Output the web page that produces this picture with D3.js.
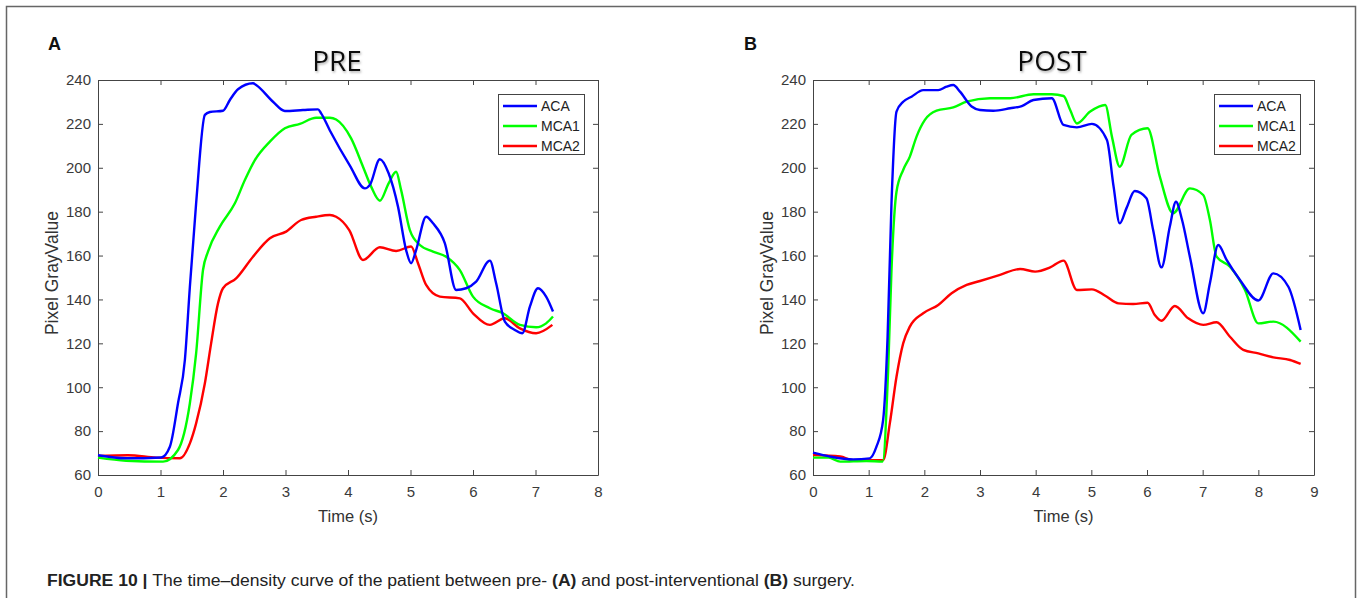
<!DOCTYPE html>
<html>
<head>
<meta charset="utf-8">
<script src="https://cdn.jsdelivr.net/npm/d3@7"></script>
<style>
  body { margin: 0; background: #fff; }
  svg { display: block; font-family: "Liberation Sans", Arial, sans-serif; }
  .axis path, .axis line { stroke: #444; }
  .axis text { fill: #3a3a3a; font-size: 15px; }
</style>
</head>
<body>
<svg width="1358" height="598"></svg>
<script>
// legend / series names
const seriesNames = ['ACA', 'MCA1', 'MCA2'];
const seriesColors = ['#0000ff', '#00ff00', '#ff0000'];

// PRE panel, values
const preAcaT = [0, 0.45, 1.01, 1.15, 1.28, 1.39, 1.47, 1.57, 1.71, 1.79, 2.0, 2.11, 2.24, 2.48, 2.53, 2.8, 2.99, 3.28, 3.52, 3.57, 3.71, 4.03, 4.27, 4.35, 4.51, 4.65, 4.8, 4.93, 5.01, 5.09, 5.25, 5.36, 5.55, 5.73, 5.89, 6.05, 6.27, 6.37, 6.51, 6.67, 6.79, 6.91, 7.04, 7.17, 7.28];
const preAcaV = [69, 67.6, 68, 72.9, 92.7, 112.4, 145.8, 183.8, 224.1, 225.4, 226, 230.9, 235.8, 238.5, 237.7, 230.1, 225.9, 226.3, 226.6, 224.8, 217, 201, 190.6, 192.2, 203.9, 197.5, 182.3, 162.5, 156.5, 162.5, 177.7, 174.7, 165.6, 144.3, 145.1, 148.1, 157.7, 147.4, 129.9, 126.1, 124.6, 136.7, 145.1, 141.3, 134.5];
const preMca1T = [0, 0.45, 1.04, 1.28, 1.47, 1.57, 1.68, 1.76, 1.95, 2.19, 2.35, 2.51, 2.75, 2.99, 3.23, 3.49, 3.71, 3.81, 4.05, 4.24, 4.37, 4.51, 4.65, 4.77, 4.85, 4.99, 5.15, 5.36, 5.57, 5.79, 6.0, 6.27, 6.48, 6.75, 7.01, 7.17, 7.28];
const preMca1V = [67.9, 66.5, 66.1, 71.4, 92.7, 115.4, 153.4, 161.8, 173.2, 183.8, 194.4, 203.5, 211.9, 218, 220, 222.8, 222.8, 222, 213.4, 200.5, 191.4, 185, 192.9, 198.2, 189.8, 171.6, 164.8, 161.8, 159.5, 153.4, 141.3, 136, 133.7, 128.4, 127.3, 129.1, 132.2];
const preMca2T = [0, 0.48, 0.93, 1.31, 1.47, 1.57, 1.71, 1.81, 1.92, 2.0, 2.21, 2.48, 2.75, 3.01, 3.25, 3.49, 3.71, 3.81, 4.02, 4.24, 4.51, 4.77, 5.01, 5.12, 5.25, 5.47, 5.79, 6.0, 6.27, 6.51, 6.75, 7.01, 7.27];
const preMca2V = [68.7, 69, 67.9, 67.6, 74.4, 83.5, 101.8, 120, 138.2, 145.1, 149.6, 159.5, 167.9, 170.9, 176.2, 177.7, 178.5, 177.7, 171.6, 158, 163.8, 162.1, 164.1, 156.5, 146.6, 141.3, 140.5, 133.7, 128.4, 131.4, 126.8, 124.6, 128.4];

// POST panel
const postAcaT = [0, 0.31, 0.72, 1.02, 1.14, 1.26, 1.34, 1.41, 1.5, 1.62, 1.77, 1.98, 2.25, 2.4, 2.52, 2.64, 2.85, 3.0, 3.24, 3.54, 3.75, 3.96, 4.29, 4.5, 4.74, 5.01, 5.28, 5.4, 5.51, 5.63, 5.78, 5.99, 6.11, 6.26, 6.41, 6.52, 6.63, 6.77, 7.01, 7.13, 7.28, 7.43, 7.67, 8.0, 8.27, 8.54, 8.76];
const postAcaV = [70.2, 68.4, 67.1, 67.6, 72.9, 85.1, 123, 183.8, 225.6, 230.1, 232.4, 235.4, 235.4, 237, 237.7, 234.7, 227.9, 226.3, 226, 227.1, 228.1, 230.9, 231.7, 219.5, 218.4, 220, 212.7, 191.4, 174.7, 181.5, 189.4, 186.1, 171.6, 154.6, 173.2, 184.5, 176.2, 159.5, 133.7, 147.4, 164.8, 158, 148.9, 139.5, 151.9, 145.8, 126.1];
const postMca1T = [0, 0.28, 0.49, 0.96, 1.25, 1.35, 1.41, 1.5, 1.62, 1.74, 1.86, 2.01, 2.22, 2.52, 2.76, 3.18, 3.54, 3.96, 4.29, 4.5, 4.62, 4.74, 4.98, 5.25, 5.37, 5.51, 5.72, 6.01, 6.23, 6.47, 6.77, 7.01, 7.13, 7.25, 7.49, 7.76, 8.0, 8.27, 8.76];
const postMca1V = [67.9, 67.9, 66.1, 66.4, 66.1, 107.9, 153.4, 189.1, 199, 205.1, 214.2, 221.8, 226, 227.5, 230.1, 231.7, 231.7, 233.5, 233.5, 232.7, 226.3, 220.2, 225.6, 228.6, 214.2, 200.5, 215, 218, 196, 179.3, 190.6, 187.6, 176.2, 159.5, 154.9, 144.3, 129.1, 129.9, 120.8];
const postMca2T = [0, 0.49, 0.72, 1.26, 1.38, 1.5, 1.62, 1.74, 1.98, 2.25, 2.49, 2.76, 3.0, 3.36, 3.72, 3.99, 4.26, 4.5, 4.74, 5.01, 5.25, 5.49, 5.75, 6.01, 6.14, 6.26, 6.5, 6.74, 7.01, 7.25, 7.49, 7.73, 8.0, 8.27, 8.57, 8.76];
const postMca2V = [69.1, 68.4, 66.8, 66.8, 83.5, 104.8, 120, 127.6, 133.7, 137.5, 142.8, 146.6, 148.4, 151.2, 153.9, 152.7, 154.6, 157.7, 144.3, 144.6, 141.7, 138.2, 137.9, 138.5, 132.9, 130.3, 137, 131.4, 128.4, 129.6, 123, 117, 115.4, 113.6, 112.4, 110.6];

const yTicks = [60, 80, 100, 120, 140, 160, 180, 200, 220, 240];

const svg = d3.select('svg');

// soft shadow used under the panel titles
svg.append('defs').append('filter').attr('id', 'shadow')
  .append('feDropShadow')
  .attr('dx', 1).attr('dy', 1.5).attr('stdDeviation', 1)
  .attr('flood-color', '#777').attr('flood-opacity', 0.6);

// outer frame (open at the bottom)
svg.append('path')
  .attr('d', 'M6.5,598 V6.5 H1355.5 V598')
  .attr('fill', 'none').attr('stroke', '#666').attr('stroke-width', 1.5);

const zip = (ts, vs) => ts.map((t, i) => ({t: t, v: vs[i]}));

function drawPanel(p) {
  const x = d3.scaleLinear().domain([0, p.xMax]).range([p.left, p.right]);
  const y = d3.scaleLinear().domain([60, 240]).range([475, 80]);
  const g = svg.append('g');

  g.append('g').attr('class', 'axis')
    .attr('transform', 'translate(0,475)')
    .call(d3.axisBottom(x).ticks(p.xMax).tickSizeInner(-5).tickSizeOuter(0).tickPadding(11));
  g.append('g').attr('class', 'axis')
    .attr('transform', 'translate(0,80)')
    .call(d3.axisTop(x).ticks(p.xMax).tickSizeInner(-5).tickSizeOuter(0).tickFormat(''));
  g.append('g').attr('class', 'axis')
    .attr('transform', 'translate(' + p.left + ',0)')
    .call(d3.axisLeft(y).tickValues(yTicks).tickSizeInner(-5).tickSizeOuter(0).tickPadding(7));
  g.append('g').attr('class', 'axis')
    .attr('transform', 'translate(' + p.right + ',0)')
    .call(d3.axisRight(y).tickValues(yTicks).tickSizeInner(-5).tickSizeOuter(0).tickFormat(''));
  g.selectAll('.axis .domain').attr('stroke', '#444');

  const line = d3.line()
    .x(d => x(d.t))
    .y(d => y(d.v))
    .curve(d3.curveMonotoneX);

  // red first so blue sits on top, like the figure
  [2, 1, 0].forEach(i => {
    g.append('path')
      .datum(p.series[i])
      .attr('fill', 'none')
      .attr('stroke', seriesColors[i])
      .attr('stroke-width', 2.4)
      .attr('stroke-linejoin', 'round')
      .attr('d', line);
  });

  // legend
  const lg = g.append('g').attr('transform', 'translate(' + (p.right - 100) + ',94)');
  lg.append('rect').attr('x', 0.5).attr('y', 0.5).attr('width', 86).attr('height', 60)
    .attr('fill', '#fff').attr('stroke', '#444').attr('stroke-width', 1);
  seriesNames.forEach((name, i) => {
    const yy = 12 + i * 20;
    lg.append('line').attr('x1', 5).attr('x2', 39).attr('y1', yy).attr('y2', yy)
      .attr('stroke', seriesColors[i]).attr('stroke-width', 2.4);
    lg.append('text').attr('x', 43).attr('y', yy).attr('dy', '0.36em')
      .attr('font-size', 14).attr('fill', '#222').text(name);
  });

  // axis labels
  g.append('text')
    .attr('x', (p.left + p.right) / 2).attr('y', 522)
    .attr('text-anchor', 'middle').attr('font-size', 16.5).attr('fill', '#333')
    .text('Time (s)');
  g.append('text')
    .attr('transform', 'translate(' + (p.left - 40) + ',273) rotate(-90)')
    .attr('text-anchor', 'middle').attr('font-size', 17.5).attr('fill', '#333')
    .text('Pixel GrayValue');

  // title and panel letter
  g.append('text')
    .attr('x', p.titleX).attr('y', 71)
    .attr('text-anchor', 'middle')
    .attr('font-family', '"Open Sans", sans-serif')
    .attr('font-size', 28).attr('fill', '#111')
    .attr('filter', 'url(#shadow)')
    .text(p.title);
  g.append('text')
    .attr('x', p.letterX).attr('y', 50)
    .attr('font-size', 18).attr('font-weight', 'bold').attr('fill', '#111')
    .text(p.letter);
}

drawPanel({
  left: 98, right: 598, xMax: 8, title: 'PRE', titleX: 337, letter: 'A', letterX: 48,
  series: [zip(preAcaT, preAcaV), zip(preMca1T, preMca1V), zip(preMca2T, preMca2V)]
});
drawPanel({
  left: 813, right: 1314, xMax: 9, title: 'POST', titleX: 1052, letter: 'B', letterX: 744,
  series: [zip(postAcaT, postAcaV), zip(postMca1T, postMca1V), zip(postMca2T, postMca2V)]
});

// caption
const cap = svg.append('text')
  .attr('x', 47).attr('y', 586)
  .attr('font-size', 16).attr('fill', '#222')
  .attr('textLength', 808).attr('lengthAdjust', 'spacingAndGlyphs');
cap.append('tspan').attr('font-weight', 'bold').text('FIGURE 10 | ');
cap.append('tspan').text('The time\u2013density curve of the patient between pre- ');
cap.append('tspan').attr('font-weight', 'bold').text('(A)');
cap.append('tspan').text(' and post-interventional ');
cap.append('tspan').attr('font-weight', 'bold').text('(B)');
cap.append('tspan').text(' surgery.');
</script>
</body>
</html>
